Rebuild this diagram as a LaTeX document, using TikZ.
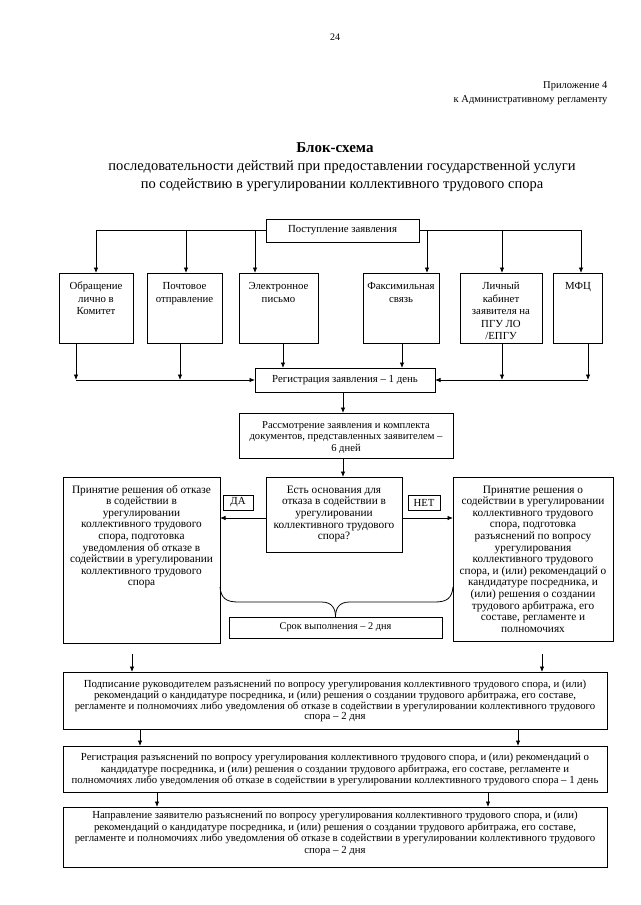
\documentclass[tikz,border=0pt]{standalone}
\usepackage{fontspec}
\setmainfont{Liberation Serif}
\usetikzlibrary{arrows.meta,calc}
\newcommand{\tbx}[4]{\parbox[c][#2][t]{#1}{\vspace*{#3}\centering\begin{tabular}{@{}c@{}}#4\end{tabular}\par}}
\begin{document}
\begin{tikzpicture}[x=1pt,y=-1pt,
  bx/.style={draw, line width=0.8pt, inner sep=0pt, outer sep=0pt},
  conn/.style={line width=0.8pt},
  arr/.style={conn, -{Latex[length=5.5pt,width=4.5pt]}},
  fa/.style={font=\fontsize{10.8}{12.5}\selectfont},
  fb/.style={font=\fontsize{11.3}{11.6}\selectfont},
  fq/.style={font=\fontsize{10.6}{11.6}\selectfont},
  fc/.style={font=\fontsize{10.8}{10.4}\selectfont},
  fd/.style={font=\fontsize{10.8}{11.6}\selectfont}]
\useasboundingbox (0,0) rectangle (640,905);
% header
\node[font=\fontsize{10}{12}\selectfont] (pg) at (335,37) {24};
\node[font=\fontsize{10.5}{12}\selectfont, anchor=east] (app1) at (611,86) {Приложение 4};
\node[font=\fontsize{10.5}{12}\selectfont, anchor=east] (app2) at (611,100) {к Административному регламенту};
\node[font=\fontsize{15}{17}\selectfont\bfseries] (title) at (335,148) {Блок-схема};
\node[font=\fontsize{14.5}{17}\selectfont] (sub1) at (342,167) {последовательности действий при предоставлении государственной услуги};
\node[font=\fontsize{14.5}{17}\selectfont] (sub2) at (342,185) {по содействию в урегулировании коллективного трудового спора};
% top
\node[bx,fa,minimum width=153pt,minimum height=23pt] (P) at (342.5,230.5) {Поступление заявления};
\node[bx,fa] (B1) at (96,308) {\tbx{74pt}{70pt}{8pt}{Обращение\\лично в\\Комитет}};
\node[bx,fa] (B2) at (184.5,308) {\tbx{75pt}{70pt}{8pt}{Почтовое\\отправление}};
\node[bx,fa] (B3) at (278.5,308) {\tbx{79pt}{70pt}{8pt}{Электронное\\письмо}};
\node[bx,fa] (B4) at (401,308) {\tbx{76pt}{70pt}{8pt}{Факсимильная\\связь}};
\node[bx,fa] (B5) at (501,308) {\tbx{82pt}{70pt}{8pt}{Личный\\кабинет\\заявителя на\\ПГУ ЛО\\/ЕПГУ}};
\node[bx,fa] (B6) at (578,308) {\tbx{49pt}{70pt}{8pt}{МФЦ}};
\node[bx,fa,minimum width=180pt,minimum height=24pt] (R) at (345,380) {Регистрация заявления – 1 день};
\node[bx,fq] (Q) at (346,435.5) {\tbx{214pt}{45pt}{6.9pt}{Рассмотрение заявления и комплекта\\документов, представленных заявителем –\\6 дней}};
\node[bx,fb] (D) at (334,514.5) {\tbx{136pt}{75pt}{8.2pt}{Есть основания для\\отказа в содействии в\\урегулировании\\коллективного трудового\\спора?}};
\node[bx,fb] (L) at (141.5,560) {\tbx{157pt}{166pt}{7.9pt}{Принятие решения об отказе\\в содействии в\\урегулировании\\коллективного трудового\\спора, подготовка\\уведомления об отказе в\\содействии в урегулировании\\коллективного трудового\\спора}};
\node[bx,fb] (Rb) at (533,559) {\tbx{160pt}{164pt}{7.9pt}{Принятие решения о\\содействии в урегулировании\\коллективного трудового\\спора, подготовка\\разъяснений по вопросу\\урегулирования\\коллективного трудового\\спора, и (или) рекомендаций о\\кандидатуре посредника, и\\(или) решения о создании\\трудового арбитража, его\\составе, регламенте и\\полномочиях}};
\node[bx,fa,minimum width=30pt,minimum height=15pt] (DA) at (238,502.5) {ДА};
\node[bx,fa,minimum width=32pt,minimum height=15pt] (NET) at (424,502.5) {НЕТ};
\node[bx,font=\fontsize{10.3}{12}\selectfont,minimum width=213pt,minimum height=21pt] (Srok) at (335.5,627.5) {Срок выполнения – 2 дня};
\node[bx,fc] (S) at (335,700.5) {\tbx{544pt}{57pt}{8.2pt}{Подписание руководителем разъяснений по вопросу урегулирования коллективного трудового спора, и (или)\\рекомендаций о кандидатуре посредника, и (или) решения о создании трудового арбитража, его составе,\\регламенте и полномочиях либо уведомления об отказе в содействии в урегулировании коллективного трудового\\спора – 2 дня}};
\node[bx,fd] (T) at (335,769) {\tbx{544pt}{46pt}{6.4pt}{Регистрация разъяснений по вопросу урегулирования коллективного трудового спора, и (или) рекомендаций о\\кандидатуре посредника, и (или) решения о создании трудового арбитража, его составе, регламенте и\\полномочиях либо уведомления об отказе в содействии в урегулировании коллективного трудового спора – 1 день}};
\node[bx,fd] (U) at (335,837) {\tbx{544pt}{60pt}{3.6pt}{Направление заявителю разъяснений по вопросу урегулирования коллективного трудового спора, и (или)\\рекомендаций о кандидатуре посредника, и (или) решения о создании трудового арбитража, его составе,\\регламенте и полномочиях либо уведомления об отказе в содействии в урегулировании коллективного трудового\\спора – 2 дня}};
% distribution from P
\coordinate (b2i) at ([xshift=1.5pt]B2.north);
\coordinate (b3i) at ([xshift=16pt]B3.north west);
\coordinate (b4i) at ([xshift=-12pt]B4.north east);
\coordinate (b5i) at ([xshift=1pt]B5.north);
\coordinate (b6i) at ([xshift=3pt]B6.north);
\draw[arr] (P.west) -| (B1.north);
\draw[arr] (P.east) -| (b6i);
\foreach \c in {b2i,b3i,b4i,b5i} \draw[arr] (\c |- P.west) -- (\c);
% collection to R
\coordinate (b1o) at ([xshift=-20pt]B1.south);
\coordinate (b2o) at ([xshift=-4.5pt]B2.south);
\coordinate (b3o) at ([xshift=4.5pt]B3.south);
\coordinate (b4o) at ([xshift=1pt]B4.south);
\coordinate (b5o) at ([xshift=1pt]B5.south);
\coordinate (b6o) at ([xshift=10pt]B6.south);
\draw[arr] (b1o) -- (b1o |- R.west);
\draw[arr] (b2o) -- (b2o |- R.west);
\draw[arr] (b1o |- R.west) -- (R.west);
\draw[arr] (b3o) -- (b3o |- R.north);
\draw[arr] (b4o) -- (b4o |- R.north);
\draw[arr] (b5o) -- (b5o |- R.east);
\draw[arr] (b6o) -- (b6o |- R.east);
\draw[arr] (b6o |- R.east) -- (R.east);
% R -> Q -> D
\coordinate (rq) at ([xshift=-2pt]R.south);
\draw[arr] (rq) -- (rq |- Q.north);
\coordinate (qd) at ([xshift=-3pt]Q.south);
\draw[arr] (qd) -- (qd |- D.north);
% D -> L, Rb
\coordinate (dl) at ([yshift=-3.5pt]D.west);
\draw[arr] (dl) -- (dl -| L.east);
\coordinate (dr) at ([yshift=-3.5pt]D.east);
\draw[arr] (dr) -- (dr -| Rb.west);
% brace
\coordinate (brl) at ([yshift=-110pt]L.north east);
\coordinate (brr) at ([yshift=-110pt]Rb.north west);
\draw[conn] (brl) .. controls ($(brl)+(1,11)$) and ($(brl)+(6,15)$) .. ($(brl)+(18,15)$)
  -- ($(Srok.north)+(-14,-15)$) .. controls ($(Srok.north)+(-3,-15)$) and ($(Srok.north)+(0,-8)$) .. (Srok.north);
\draw[conn] (Srok.north) .. controls ($(Srok.north)+(0,-8)$) and ($(Srok.north)+(3,-15)$) .. ($(Srok.north)+(14,-15)$)
  -- ($(brr)+(-18,15)$) .. controls ($(brr)+(-6,15)$) and ($(brr)+(-1,11)$) .. (brr);
% to S, T, U
\coordinate (s1) at (132,654);
\coordinate (s2) at (542,654);
\draw[arr] (s1) -- (s1 |- S.north);
\draw[arr] (s2) -- (s2 |- S.north);
\coordinate (t1) at ([xshift=77pt]S.south west);
\coordinate (t2) at ([xshift=455pt]S.south west);
\draw[arr] (t1) -- (t1 |- T.north);
\draw[arr] (t2) -- (t2 |- T.north);
\coordinate (u1) at ([xshift=94pt]T.south west);
\coordinate (u2) at ([xshift=425pt]T.south west);
\draw[arr] (u1) -- (u1 |- U.north);
\draw[arr] (u2) -- (u2 |- U.north);
\end{tikzpicture}
\end{document}
